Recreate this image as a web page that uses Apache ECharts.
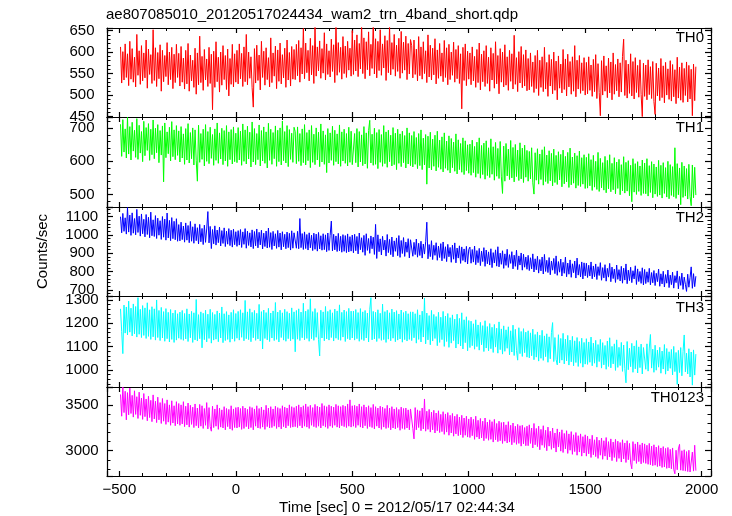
<!DOCTYPE html>
<html><head><meta charset="utf-8">
<script src="https://cdn.jsdelivr.net/npm/echarts@6/dist/echarts.min.js"></script>
<style>html,body{margin:0;padding:0;background:#fff}#c{width:732px;height:516px}</style>
</head><body><div id="c"></div>
<script>
// ---------- data ----------
const TITLE = 'ae807085010_20120517024434_wam2_trn_4band_short.qdp';
const X_NAME = 'Time [sec] 0 = 2012/05/17 02:44:34';
const Y_NAME = 'Counts/sec';
const BAND_NAMES = ['TH0', 'TH1', 'TH2', 'TH3', 'TH0123'];
const BIN_START = -495;   // first time bin (s)
const BIN_SIZE = 5;       // bin width (s)

const TH0 = [
612,528,601,535,619,541,596,522,625,537,608,530,588,519,641,546,603,525,615,533,598,540,628,516,607,548,594,527,652,534,610,520,599,538,617,509,604,531,592,543,622,524,600,536,611,515,595,529,618,541,
597,521,613,530,586,514,604,526,620,509,593,533,581,518,609,502,598,524,637,529,590,511,606,535,584,520,611,527,595,466,602,518,624,531,588,507,600,523,615,536,592,513,607,498,585,525,618,519,596,530,
604,526,619,538,597,520,612,531,641,524,600,539,589,517,472,608,528,616,534,593,512,625,541,602,523,610,536,587,519,633,529,598,544,614,515,605,532,621,526,594,540,609,518,628,535,599,521,613,537,606,
536,618,545,627,530,610,549,655,538,621,552,604,533,632,547,615,527,660,544,612,556,626,539,608,551,645,535,619,548,603,542,630,555,617,529,662,546,622,553,611,537,636,550,614,541,625,558,609,544,650,
548,628,556,640,543,620,561,665,550,633,538,624,559,647,545,618,562,670,549,631,540,625,557,652,546,619,563,638,534,627,552,660,547,622,560,641,544,616,555,632,539,648,551,623,558,637,536,620,549,629,
615,540,628,548,607,533,636,545,612,537,624,550,603,529,640,542,616,535,609,547,631,526,605,539,620,544,598,531,627,541,610,524,618,536,600,546,623,530,606,538,615,527,596,468,611,534,619,522,602,537,
598,524,612,533,590,518,606,529,621,512,595,531,603,520,615,527,588,509,610,535,597,516,624,526,592,503,608,530,600,519,617,523,589,511,604,532,596,514,639,525,587,508,601,528,613,517,594,521,605,510,
585,512,598,520,577,506,592,515,604,499,581,518,589,508,611,514,576,497,594,521,583,503,600,511,579,489,591,516,572,505,606,513,584,498,595,519,578,502,589,509,615,496,581,514,592,504,575,510,587,500,
576,503,589,511,570,497,583,508,594,492,573,506,452,580,500,591,509,568,494,586,505,577,489,598,502,571,510,584,496,575,507,590,630,499,581,493,572,504,596,498,578,491,587,506,569,495,582,501,450,574,
497,570,489,582,501,566,492,578,485,455,574,498,563,487,585,494,568,482,576,500,561,490,580,486,571,496,559,480,588,493,565,488,575,483,562,499,577,484,569,491,560,452,572,487,566];

const TH1 = [
712,615,726,628,698,610,733,622,705,604,718,631,694,612,729,606,709,625,690,599,721,617,702,633,714,603,697,620,725,608,700,626,711,596,693,619,707,538,716,611,689,623,703,601,720,614,695,605,708,618,
692,598,705,610,683,591,699,604,714,595,687,608,701,589,695,602,540,709,597,684,606,697,586,711,600,690,593,703,609,681,588,698,603,716,594,686,607,700,590,693,601,708,585,689,605,696,592,704,599,685,
596,702,604,691,588,713,600,695,592,706,607,688,583,719,598,699,590,684,605,710,586,693,601,704,594,689,580,715,603,697,591,687,608,707,585,694,599,701,589,722,602,690,595,708,584,696,606,685,597,703,
690,593,704,600,684,587,698,596,711,589,687,602,695,581,708,597,682,590,701,604,688,584,713,598,692,591,680,566,699,595,686,603,706,588,694,599,683,592,710,585,689,601,697,594,684,586,703,597,691,590,
589,684,596,699,583,690,598,680,587,705,592,686,579,693,724,595,682,588,700,591,687,578,696,597,681,585,708,593,689,582,694,599,679,586,702,590,685,575,697,594,683,584,691,596,678,580,701,592,686,587,
678,583,690,591,672,578,684,587,695,575,670,589,681,531,676,580,688,574,667,585,679,571,691,582,664,576,674,568,686,579,661,573,677,565,669,581,658,570,683,562,665,575,654,567,671,560,662,572,650,564,
652,558,664,566,645,552,658,563,671,549,648,560,655,546,662,557,641,551,668,561,644,543,657,555,639,548,660,553,503,646,540,654,556,637,545,663,550,642,538,651,554,634,542,656,547,640,536,649,552,633,
540,630,547,641,535,501,626,543,638,531,622,545,635,528,644,539,619,533,632,541,624,526,637,536,618,530,629,544,621,523,634,532,615,538,627,521,640,529,613,534,625,519,617,527,631,524,611,531,620,518,
612,519,623,526,605,512,618,522,600,515,627,509,609,520,596,513,615,505,603,517,620,508,594,514,611,502,598,518,606,499,590,511,614,504,597,510,602,496,588,478,608,507,593,500,599,509,586,497,604,503,
595,502,608,495,587,506,599,490,592,501,583,494,603,498,588,489,596,503,581,492,600,487,590,497,584,493,641,488,593,499,580,469,597,491,586,495,578,486,591,494,466,589,490,582,498];

const TH2 = [
1100,1012,1118,1020,1094,1005,1150,1016,1109,998,1121,1010,1090,1001,1140,1014,1103,994,1115,1007,1086,990,1112,1003,1097,985,1125,996,1083,992,1106,981,1092,999,1078,976,1101,988,1087,972,1120,984,1080,969,1095,980,1075,974,1089,966,
1057,968,1070,975,1049,961,1066,972,1052,958,1074,966,1045,955,1061,969,1040,951,1058,963,1036,948,1054,960,1033,1128,957,1047,926,1030,952,1050,945,1027,958,1043,940,1024,954,1039,937,1021,950,1035,942,1026,934,1032,947,1018,
938,1024,945,1030,932,1017,949,1035,928,1021,943,1012,935,1028,926,1019,941,1033,930,1015,946,1026,924,1010,937,1022,929,1038,933,1013,921,1020,940,1007,927,1025,934,1011,919,1018,936,1004,925,1016,931,1009,918,1023,928,1012,
1015,928,1020,925,1090,931,1008,921,1017,926,1003,918,1012,930,999,915,1010,922,1005,912,1014,924,996,917,1007,920,1001,909,1011,916,998,1076,913,1004,919,995,910,1009,914,993,906,1002,911,997,904,1006,908,991,912,1000,
903,1004,914,992,897,1011,920,985,906,998,889,1007,916,981,900,995,925,988,894,1058,872,1001,909,979,891,993,918,972,885,1003,904,976,893,989,881,968,911,984,887,997,878,970,899,986,883,962,906,980,875,974,
971,884,960,893,978,879,955,888,966,874,951,896,963,1070,870,948,882,969,866,944,889,958,862,940,877,953,859,962,872,936,855,949,881,932,851,945,868,957,848,929,874,941,845,935,861,924,852,938,842,921,
934,846,921,852,940,838,915,849,927,833,912,855,931,829,918,843,908,836,925,822,904,847,919,830,936,826,901,840,914,818,897,834,922,823,893,845,909,815,890,829,917,811,886,836,902,808,895,824,880,813,
889,806,876,815,897,798,870,810,884,792,866,804,880,787,894,801,862,795,877,783,858,808,872,789,886,780,855,797,869,776,851,791,879,772,847,786,864,769,843,794,858,765,874,781,839,771,853,760,848,777,
846,768,835,776,853,761,831,772,842,757,827,779,849,753,822,766,838,748,818,770,845,745,825,762,814,741,836,758,811,749,829,737,819,754,842,734,808,751,824,740,805,760,832,730,815,746,801,736,821,727,
812,735,799,742,818,728,795,739,806,724,791,745,814,720,788,733,802,716,784,737,809,713,781,729,797,710,778,740,804,706,774,725,792,703,770,731,692,786,715,767,826,709,789,718,775];

const TH3 = [
1262,1165,1070,1278,1158,1270,1150,1295,1162,1265,1146,1283,1155,1272,1141,1310,1153,1260,1139,1276,1148,1266,1135,1288,1144,1258,1131,1271,1142,1262,1128,1300,1139,1255,1126,1268,1137,1250,1123,1263,1134,1247,1120,1259,1131,1244,1118,1256,1128,1241,
1136,1248,1131,1255,1127,1242,1133,1262,1122,1240,1138,1251,1118,1245,1129,1302,1124,1237,1134,1249,1095,1243,1130,1256,1120,1239,1135,1260,1115,1246,1128,1238,1132,1253,1121,1244,1137,1270,1117,1241,1126,1250,1131,1236,1119,1247,1133,1258,1123,1242,
1136,1251,1128,1258,1140,1245,1125,1298,1134,1249,1130,1262,1121,1247,1138,1255,1127,1243,1133,1281,1124,1250,1090,1257,1135,1246,1129,1264,1122,1244,1137,1253,1126,1289,1131,1248,1120,1256,1139,1245,1128,1260,1123,1250,1134,1243,1125,1266,1132,1249,
1078,1255,1132,1262,1126,1248,1138,1286,1129,1252,1135,1259,1123,1305,1134,1250,1127,1263,1140,1246,1131,1060,1256,1137,1249,1125,1272,1133,1251,1128,1258,1139,1245,1124,1261,1136,1253,1130,1279,1127,1247,1141,1257,1122,1250,1134,1264,1129,1252,1137,
1252,1128,1259,1134,1246,1123,1263,1131,1249,1126,1255,1137,1244,1120,1260,1310,1129,1251,1133,1247,1122,1258,1135,1243,1127,1282,1130,1250,1118,1256,1132,1245,1125,1261,1136,1248,1121,1254,1128,1240,1133,1257,1119,1246,1130,1252,1124,1241,1131,1249,
1126,1249,1138,1241,1115,1258,1131,1236,1120,1252,1141,1308,1112,1244,1129,1233,1108,1255,1124,1238,1135,1229,1104,1247,1118,1226,1130,1251,1101,1231,1122,1242,1097,1224,1115,1236,1126,1218,1094,1239,1111,1221,1103,1245,1090,1215,1117,1228,1082,1212,
1096,1209,1104,1198,1089,1215,1100,1193,1085,1204,1108,1190,1079,1211,1094,1186,1082,1199,1091,1183,1075,1195,1098,1179,1072,1206,1087,1176,1068,1189,1080,1172,1093,1185,1065,1168,1077,1192,1062,1174,1083,1042,1181,1070,1165,1058,1177,1074,1162,1055,
1168,1052,1159,1061,1175,1044,1152,1055,1163,1038,1149,1050,1170,1041,1146,1057,1155,1033,1142,1048,1160,1203,1036,1139,1045,1022,1151,1030,1135,1042,1157,1026,1132,1039,1148,1021,1128,1035,1144,1018,1125,1032,1139,1015,1122,1029,1136,1012,1118,1025,
1134,1024,1120,1033,1141,1018,1115,1029,1127,1012,1109,1036,1131,1008,1117,1022,1105,1003,1124,1015,1138,1009,1101,1026,1112,998,1129,1011,1097,1019,1118,994,1107,1006,945,1122,1001,1093,1014,1114,990,1103,1005,1126,987,1099,1010,1111,983,1096,
1100,1003,1112,995,1094,1152,1008,1089,990,1106,999,1085,1012,1097,986,1081,1004,1109,982,1092,996,1078,1007,1088,979,1101,993,1075,938,1084,989,1096,975,1080,1150,992,1072,983,1091,970,1077,935,1086,978,1068];

const TH0123 = [
3620,3380,3700,3420,3655,3340,3640,3395,3690,3410,3610,3370,3660,3400,3595,3355,3645,3390,3580,3345,3630,3375,3570,3330,3600,3365,3555,3320,3615,3350,3545,3310,3590,3340,3530,3300,3575,3325,3520,3290,3560,3315,3505,3280,3550,3305,3495,3275,3540,3295,
3520,3280,3505,3295,3540,3265,3490,3285,3525,3260,3500,3290,3480,3255,3515,3275,3470,3250,3510,3270,3495,3245,3465,3280,3530,3240,3475,3265,3215,3490,3255,3460,3270,3505,3235,3470,3260,3450,3250,3485,3230,3465,3265,3455,3240,3495,3225,3460,3255,3475,
3250,3480,3260,3465,3235,3490,3245,3470,3265,3455,3240,3485,3255,3475,3230,3460,3270,3495,3250,3465,3245,3480,3260,3450,3235,3500,3265,3470,3250,3485,3255,3460,3270,3490,3245,3475,3260,3465,3240,3495,3265,3480,3250,3470,3275,3505,3255,3485,3260,3475,
3265,3490,3255,3505,3275,3480,3250,3495,3270,3515,3260,3485,3245,3500,3280,3475,3265,3510,3255,3490,3270,3480,3250,3520,3275,3495,3260,3485,3245,3505,3270,3490,3255,3480,3280,3510,3260,3495,3250,3485,3275,3500,3265,3490,3255,3515,3270,3560,3260,3495,
3270,3500,3255,3490,3280,3515,3260,3485,3250,3505,3275,3480,3245,3495,3265,3475,3255,3510,3240,3485,3270,3470,3250,3490,3235,3480,3260,3465,3245,3500,3255,3470,3230,3485,3250,3460,3240,3475,3255,3455,3225,3480,3245,3465,3235,3470,3250,3450,3230,3460,
3460,3245,3130,3475,3230,3450,3255,3440,3220,3470,3240,3570,3215,3435,3235,3455,3205,3425,3230,3445,3195,3415,3220,3440,3200,3400,3210,3430,3180,3405,3205,3420,3170,3390,3195,3410,3160,3380,3185,3400,3165,3370,3175,3390,3145,3360,3170,3380,3150,3350,
3145,3370,3165,3345,3125,3380,3150,3335,3130,3355,3140,3325,3110,3360,3135,3315,3115,3340,3125,3320,3095,3345,3120,3300,3100,3325,3110,3310,3080,3315,3105,3285,3085,3320,3095,3280,3065,3305,3090,3270,3070,3290,3080,3275,3050,3280,3075,3255,3055,3270,
3055,3285,3080,3250,3030,3300,3065,3245,3045,3270,3010,3235,3060,3275,3035,3225,3000,3260,3050,3215,3015,3250,3030,3195,2985,3240,3040,3205,2995,3230,2980,3190,3020,3220,2970,3185,3005,3210,2960,3175,2990,3200,2950,3165,2985,3185,2940,3155,2975,3175,
2940,3160,2965,3130,2925,3170,2955,3120,2935,3150,2915,3115,2950,3140,2905,3110,2940,3145,2900,3100,2930,3130,2890,3095,2925,3125,2880,3105,2915,3090,2875,3120,2910,3085,2870,3110,2900,3080,2865,2800,3100,2890,3075,2860,3095,2880,3065,2855,3085,2870,
3075,2860,3060,2850,3080,2845,3050,2835,3065,2840,3040,2825,3055,2830,3030,2815,3045,2820,3025,2805,3035,2810,3015,2800,3030,2795,2745,3005,2790,3020,3070,2785,3000,2780,3010,2775,2990,2770,3005,2765,2760,2985,2775,3060,2780];

const BAND_VALUES = [TH0, TH1, TH2, TH3, TH0123];
const X_RANGE = [-553, 2040];
const X_STEP = 500;
const Y_RANGES = [[449, 656], [462, 734], [667, 1153], [927, 1317], [2721, 3702]];
const Y_STEPS = [50, 100, 100, 100, 500];

// ---------- chart ----------
const COLORS = ['#ff0000', '#00ff00', '#0000ff', '#00ffff', '#ff00ff'];
const GRID_TOPS = [28, 117, 207, 296, 387];
const GRID_HEIGHTS = [89, 90, 89, 91, 89];
const LABEL_TOPS = [30, 120, 210, 300, 390];
const FONT = 'Liberation Sans, Arial, Helvetica, sans-serif';
const AX = { color: '#000', width: 1.2 };

const grids = [], xAxes = [], yAxes = [], series = [], titles = [];
titles.push({ text: TITLE, left: 106, top: 7, padding: 0,
  textStyle: { fontFamily: FONT, fontSize: 15, fontWeight: 'normal', color: '#000' } });

function xAxisDef(i, pos, labels) {
  return {
    type: 'value', gridIndex: i, position: pos, min: X_RANGE[0], max: X_RANGE[1],
    minInterval: X_STEP, maxInterval: X_STEP, splitNumber: 5,
    axisLine: { show: true, onZero: false, lineStyle: AX },
    axisTick: { show: true, inside: true, length: 5, lineStyle: AX },
    minorTick: { show: true, splitNumber: 5, length: 3, lineStyle: { color: '#000', width: 1 } },
    splitLine: { show: false },
    axisLabel: { show: labels, showMinLabel: false, showMaxLabel: false, hideOverlap: false,
      margin: 6, fontFamily: FONT, fontSize: 15, color: '#000',
      formatter: v => String(v).replace('-', '\u2212') }
  };
}
function yAxisDef(i, pos, labels) {
  return {
    type: 'value', gridIndex: i, position: pos, min: Y_RANGES[i][0], max: Y_RANGES[i][1],
    minInterval: Y_STEPS[i], maxInterval: Y_STEPS[i], splitNumber: 4,
    axisLine: { show: true, onZero: false, lineStyle: AX },
    axisTick: { show: true, inside: true, length: 6, lineStyle: AX },
    minorTick: { show: true, splitNumber: 5, length: 3.5, lineStyle: { color: '#000', width: 1 } },
    splitLine: { show: false },
    axisLabel: { show: labels, showMinLabel: false, showMaxLabel: false, hideOverlap: false,
      align: 'center', margin: 25, fontFamily: FONT, fontSize: 15, color: '#000',
      formatter: v => String(v) }
  };
}

BAND_NAMES.forEach((name, i) => {
  grids.push({ left: 107, width: 604, top: GRID_TOPS[i], height: GRID_HEIGHTS[i], containLabel: false });
  const xb = xAxisDef(i, 'bottom', i === BAND_NAMES.length - 1);
  if (i === BAND_NAMES.length - 1) {
    Object.assign(xb, { name: X_NAME, nameLocation: 'middle', nameGap: 24,
      nameTextStyle: { fontFamily: FONT, fontSize: 15, color: '#000', padding: [0, 24, 0, 0] } });
  }
  xAxes.push(xb);
  const yl = yAxisDef(i, 'left', true);
  if (i === 2) {
    Object.assign(yl, { name: Y_NAME, nameLocation: 'middle', nameGap: 57, nameRotate: 90,
      nameTextStyle: { fontFamily: FONT, fontSize: 15, color: '#000' } });
  }
  yAxes.push(yl);
  titles.push({ text: name, right: 28, top: LABEL_TOPS[i], padding: 0,
    textStyle: { fontFamily: FONT, fontSize: 15, fontWeight: 'normal', color: '#000' } });
});
BAND_NAMES.forEach((name, i) => {
  xAxes.push(xAxisDef(i, 'top', false));
  yAxes.push(yAxisDef(i, 'right', false));
});
BAND_NAMES.forEach((name, i) => {
  series.push({
    type: 'line', name, xAxisIndex: i, yAxisIndex: i,
    data: BAND_VALUES[i].map((v, k) => [BIN_START + k * BIN_SIZE, v]),
    showSymbol: false, symbol: 'none', clip: true, sampling: null,
    lineStyle: { color: COLORS[i], width: 1 },
    itemStyle: { color: COLORS[i] }, z: 1
  });
});

const chart = echarts.init(document.getElementById('c'), null, { renderer: 'canvas' });
chart.setOption({
  animation: false, backgroundColor: '#fff',
  title: titles, grid: grids, xAxis: xAxes, yAxis: yAxes, series
});
</script></body></html>
